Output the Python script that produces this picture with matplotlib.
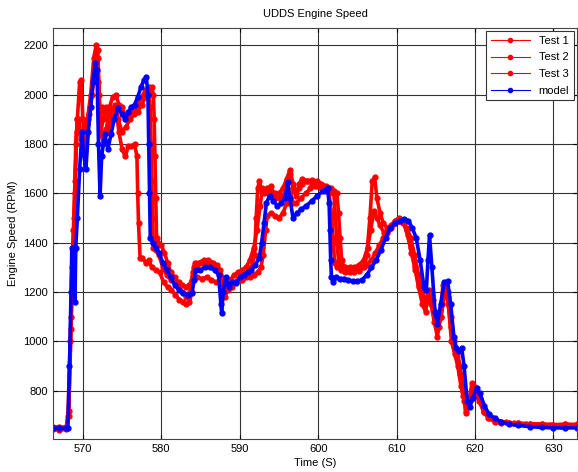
import numpy as np
import matplotlib
matplotlib.use("Agg")
import matplotlib.pyplot as plt
from matplotlib.lines import Line2D

plt.rcParams["font.family"] = ["Liberation Sans", "DejaVu Sans"]
plt.rcParams["font.size"] = 8

# model (blue)
t_model = [566.2, 567.0, 567.8, 568.1, 568.3, 568.5, 568.6, 568.8, 568.9, 569.0, 569.1, 569.3,
           569.6, 569.9, 570.1, 570.4, 570.7, 571.0, 571.3, 571.6, 571.8, 572.0, 572.2, 572.4,
           572.8, 573.2, 573.6, 574.0, 574.5, 575.0, 575.4, 575.8, 576.2, 576.6, 577.0, 577.4,
           577.8, 578.1, 578.3, 578.4, 578.5, 578.6, 578.9, 579.3, 579.7, 580.2, 580.7, 581.2,
           581.7, 582.2, 582.8, 583.4, 583.9, 584.2, 584.4, 585.0, 585.6, 586.2, 586.8, 587.3,
           587.6, 587.7, 587.9, 588.2, 588.6, 589.0, 589.5, 590.0, 590.5, 591.0, 591.5, 592.0,
           592.5, 592.8, 593.1, 593.4, 593.8, 594.3, 594.8, 595.3, 595.8, 596.1, 596.4, 596.8,
           597.3, 597.8, 598.5, 599.2, 599.9, 600.6, 601.2, 601.4, 601.5, 601.6, 601.7, 601.9,
           602.3, 602.8, 603.3, 603.8, 604.4, 605.0, 605.6, 606.2, 606.8, 607.4, 608.0, 608.6,
           609.2, 609.8, 610.4, 611.0, 611.5, 612.0, 612.5, 613.0, 613.5, 613.8, 614.0, 614.2,
           614.5, 614.9, 615.2, 615.6, 616.1, 616.5, 616.9, 617.3, 617.6, 618.0, 618.3, 618.6,
           619.0, 619.3, 619.7, 620.2, 620.6, 621.2, 621.8, 622.5, 623.3, 624.3, 625.5, 627.0,
           628.5, 630.0, 631.5, 633.0]
rpm_model = [650, 648, 648, 650, 900, 1200, 1380, 1200, 1370, 1160, 1380, 1500,
             1700, 1850, 1760, 1700, 1850, 1950, 2050, 2130, 2100, 1800, 1590, 1750,
             1840, 1780, 1840, 1900, 1945, 1920, 1900, 1930, 1950, 1960, 1990, 2030,
             2060, 2070, 2000, 1800, 1600, 1420, 1400, 1380, 1360, 1320, 1290, 1260,
             1230, 1210, 1195, 1190, 1195, 1250, 1290, 1290, 1300, 1300, 1290, 1270,
             1150, 1115, 1200, 1260, 1220, 1240, 1235, 1260, 1270, 1280, 1290, 1310,
             1340, 1400, 1480, 1560, 1590, 1570, 1550, 1560, 1580, 1645, 1580, 1500,
             1520, 1535, 1550, 1570, 1590, 1610, 1620, 1560, 1450, 1330, 1260, 1240,
             1260, 1255, 1255, 1250, 1245, 1245, 1250, 1270, 1300, 1330, 1370, 1420,
             1460, 1480, 1490, 1495, 1490, 1460, 1420, 1330, 1220, 1210, 1330, 1430,
             1300, 1120, 1070, 1150, 1240, 1245, 1150, 1020, 975, 960, 975, 900,
             760, 735, 770, 810, 790, 740, 705, 690, 675, 665, 660, 655,
             652, 650, 650, 650]

# Test 1 (red)
t_test1 = [566.2, 567.0, 567.9, 568.1, 568.4, 568.6, 568.8, 569.0, 569.3, 569.6, 569.8, 570.0,
           570.3, 570.6, 571.0, 571.4, 571.7, 571.9, 572.1, 572.3, 572.6, 573.0, 573.4, 573.8,
           574.2, 574.6, 575.0, 575.4, 575.8, 576.2, 576.6, 576.9, 577.0, 577.1, 577.3, 577.6,
           578.0, 578.4, 578.8, 579.3, 579.8, 580.3, 580.8, 581.3, 581.8, 582.3, 582.8, 583.2,
           583.6, 583.9, 584.2, 584.6, 585.2, 585.8, 586.4, 587.0, 587.5, 587.8, 588.1, 588.5,
           589.0, 589.5, 590.0, 590.5, 591.0, 591.5, 591.9, 592.1, 592.3, 592.5, 592.8, 593.1,
           593.5, 594.0, 594.5, 595.0, 595.5, 596.0, 596.4, 596.8, 597.2, 597.6, 598.0, 598.6,
           599.2, 599.8, 600.4, 601.0, 601.4, 601.7, 601.9, 602.1, 602.4, 602.9, 603.4, 604.0,
           604.6, 605.2, 605.8, 606.2, 606.6, 606.9, 607.2, 607.5, 607.9, 608.3, 608.8, 609.3,
           609.8, 610.3, 610.8, 611.3, 611.8, 612.3, 612.8, 613.3, 613.7, 614.0, 614.4, 614.8,
           615.2, 615.6, 615.9, 616.2, 616.6, 617.0, 617.4, 617.8, 618.2, 618.6, 618.9, 619.2,
           619.6, 620.0, 620.5, 621.1, 621.7, 622.4, 623.2, 624.0, 625.0, 626.5, 628.0, 629.5,
           631.0, 633.0]
rpm_test1 = [655, 650, 655, 700, 1000, 1300, 1450, 1650, 1900, 2050, 2060, 1900,
             1800, 1900, 2000, 2150, 2200, 2150, 1950, 1850, 1900, 1950, 1850, 1900,
             1950, 1850, 1780, 1750, 1790, 1790, 1800, 1750, 1600, 1480, 1340, 1340,
             1320, 1330, 1300, 1290, 1280, 1240, 1220, 1210, 1190, 1170, 1160, 1150,
             1160, 1200, 1260, 1260, 1255, 1260, 1250, 1240, 1240, 1200, 1180, 1210,
             1220, 1240, 1250, 1260, 1280, 1300, 1350, 1500, 1620, 1650, 1610, 1600,
             1620, 1630, 1580, 1600, 1620, 1660, 1695, 1640, 1590, 1640, 1660, 1650,
             1640, 1630, 1620, 1610, 1600, 1520, 1420, 1320, 1300, 1290, 1280, 1280,
             1280, 1285, 1300, 1350, 1500, 1650, 1665, 1580, 1520, 1480, 1460, 1470,
             1490, 1500, 1490, 1450, 1380, 1300, 1220, 1150, 1120, 1180, 1150, 1080,
             1020, 1100, 1230, 1200, 1150, 1000, 950, 900, 820, 760, 710, 750,
             830, 800, 760, 715, 690, 680, 675, 672, 668, 665, 662, 660,
             658, 660]

# Test 2 (red)
t_test2 = [566.2, 567.0, 567.9, 568.2, 568.5, 568.7, 568.9, 569.1, 569.3, 569.6, 569.9, 570.2,
           570.5, 570.9, 571.3, 571.6, 571.9, 572.1, 572.3, 572.6, 573.0, 573.4, 573.8, 574.2,
           574.6, 575.0, 575.5, 576.0, 576.5, 577.0, 577.5, 578.0, 578.4, 578.6, 578.7, 578.8,
           578.9, 579.0, 579.3, 579.7, 580.2, 580.7, 581.2, 581.7, 582.2, 582.7, 583.2, 583.7,
           584.0, 584.3, 584.8, 585.4, 586.0, 586.6, 587.1, 587.5, 587.9, 588.3, 588.8, 589.3,
           589.8, 590.3, 590.8, 591.3, 591.8, 592.2, 592.6, 592.9, 593.2, 593.6, 594.0, 594.5,
           595.0, 595.5, 596.0, 596.4, 596.8, 597.2, 597.6, 598.0, 598.6, 599.2, 599.8, 600.4,
           601.0, 601.6, 602.0, 602.2, 602.4, 602.6, 602.9, 603.4, 604.0, 604.6, 605.2, 605.8,
           606.3, 606.7, 607.1, 607.5, 607.9, 608.4, 608.9, 609.4, 609.9, 610.4, 610.9, 611.4,
           611.9, 612.4, 612.9, 613.4, 613.8, 614.2, 614.6, 615.0, 615.4, 615.8, 616.1, 616.5,
           616.9, 617.3, 617.7, 618.1, 618.5, 618.9, 619.3, 619.7, 620.1, 620.6, 621.2, 621.8,
           622.5, 623.3, 624.3, 625.5, 627.0, 628.5, 630.0, 631.5, 633.0]
rpm_test2 = [645, 640, 645, 700, 1100, 1350, 1500, 1800, 1900, 1850, 1800, 1780,
             1880, 1950, 2050, 2150, 2180, 2000, 1850, 1800, 1860, 1950, 1990, 2000,
             1960, 1950, 1900, 1910, 1940, 1960, 1990, 2020, 2030, 1950, 1800, 1650,
             1500, 1380, 1370, 1350, 1300, 1270, 1250, 1240, 1220, 1200, 1180, 1200,
             1280, 1320, 1320, 1330, 1330, 1320, 1310, 1290, 1250, 1240, 1250, 1270,
             1280, 1290, 1300, 1330, 1380, 1450, 1550, 1620, 1610, 1600, 1610, 1600,
             1580, 1590, 1620, 1680, 1620, 1600, 1620, 1640, 1650, 1655, 1650, 1640,
             1630, 1620, 1600, 1500, 1400, 1330, 1310, 1300, 1300, 1300, 1310, 1330,
             1380, 1450, 1530, 1500, 1470, 1440, 1450, 1470, 1490, 1495, 1480, 1430,
             1360, 1290, 1230, 1180, 1160, 1200, 1170, 1100, 1060, 1150, 1220, 1180,
             1060, 980, 940, 870, 780, 720, 770, 825, 810, 760, 715, 690,
             675, 670, 668, 668, 666, 664, 662, 665, 662]

# Test 3 (red)
t_test3 = [566.2, 567.0, 567.9, 568.2, 568.5, 568.8, 569.0, 569.2, 569.5, 569.8, 570.1, 570.4,
           570.8, 571.2, 571.5, 571.8, 572.0, 572.2, 572.5, 572.9, 573.3, 573.7, 574.1, 574.5,
           575.0, 575.5, 576.0, 576.5, 577.0, 577.5, 578.0, 578.4, 578.8, 579.0, 579.1, 579.2,
           579.3, 579.4, 579.6, 580.0, 580.4, 580.8, 581.2, 581.7, 582.2, 582.7, 583.2, 583.6,
           583.9, 584.2, 584.6, 585.2, 585.8, 586.4, 587.0, 587.5, 587.9, 588.3, 588.8, 589.3,
           589.8, 590.3, 590.8, 591.3, 591.8, 592.3, 592.7, 593.0, 593.3, 593.5, 594.0, 594.5,
           595.0, 595.5, 596.0, 596.4, 596.8, 597.2, 597.8, 598.4, 599.0, 599.6, 600.2, 600.8,
           601.4, 602.0, 602.4, 602.6, 602.8, 603.0, 603.3, 603.8, 604.4, 605.0, 605.6, 606.2,
           606.8, 607.3, 607.8, 608.3, 608.8, 609.3, 609.8, 610.3, 610.8, 611.3, 611.8, 612.3,
           612.8, 613.3, 613.7, 614.1, 614.5, 614.9, 615.3, 615.7, 616.1, 616.5, 616.9, 617.3,
           617.7, 618.1, 618.5, 618.9, 619.3, 619.7, 620.1, 620.6, 621.2, 621.8, 622.5, 623.3,
           624.3, 625.5, 627.0, 628.5, 630.0, 631.5, 633.0]
rpm_test3 = [650, 655, 650, 720, 1050, 1380, 1600, 1850, 1900, 1820, 1800, 1850,
             1920, 2000, 2100, 2180, 2050, 1900, 1950, 1920, 1880, 1940, 1960, 1900,
             1850, 1870, 1900, 1920, 1930, 1960, 1990, 2020, 2030, 2000, 1900, 1750,
             1580, 1420, 1400, 1390, 1360, 1320, 1280, 1260, 1240, 1230, 1220, 1230,
             1250, 1300, 1310, 1320, 1320, 1310, 1300, 1270, 1230, 1220, 1220, 1240,
             1250, 1250, 1260, 1260, 1270, 1280, 1300, 1350, 1450, 1510, 1520, 1510,
             1500, 1520, 1560, 1600, 1560, 1560, 1580, 1600, 1620, 1630, 1630, 1625,
             1620, 1610, 1600, 1520, 1420, 1330, 1300, 1290, 1290, 1290, 1300, 1310,
             1330, 1360, 1390, 1420, 1440, 1460, 1480, 1490, 1480, 1460, 1420, 1350,
             1270, 1200, 1160, 1210, 1190, 1120, 1060, 1100, 1200, 1200, 1100, 1000,
             960, 900, 800, 730, 760, 800, 800, 770, 720, 695, 680, 672,
             668, 670, 666, 666, 663, 664, 664]

x_ticks = [570, 580, 590, 600, 610, 620, 630]
y_ticks = [800, 1000, 1200, 1400, 1600, 1800, 2000, 2200]

fig = plt.figure(figsize=(5.78, 4.72), dpi=100)
ax = fig.add_axes([53 / 578, 1 - 439 / 472, 524 / 578, 411 / 472])

style = dict(marker=".", markersize=7, linewidth=2.6)
for t, r in [(t_test1, rpm_test1), (t_test2, rpm_test2), (t_test3, rpm_test3)]:
    ax.plot(t, r, color="red", **style)
ax.plot(t_model, rpm_model, color="blue", **style)

ax.set_xlim(566.2, 633)
ax.set_ylim(605, 2270)
ax.set_xticks(x_ticks)
ax.set_yticks(y_ticks)
ax.grid(True, color="#333333", linewidth=0.8)
ax.set_axisbelow(True)
ax.tick_params(direction="in", top=True, right=True, length=3, labelsize=8)
for s in ax.spines.values():
    s.set_color("#444444")

ax.set_title("UDDS Engine Speed", fontsize=8, pad=8)
ax.set_xlabel("Time (S)", fontsize=8, labelpad=3)
ax.set_ylabel("Engine Speed (RPM)", fontsize=8, labelpad=4)

handles = [Line2D([], [], color="red", marker=".", markersize=6, linewidth=0.8),
           Line2D([], [], color="red", marker=".", markersize=6, linewidth=0.8),
           Line2D([], [], color="red", marker=".", markersize=6, linewidth=0.8),
           Line2D([], [], color="blue", marker=".", markersize=6, linewidth=0.8)]
leg = ax.legend(handles, ["Test 1", "Test 2", "Test 3", "model"], loc="upper right",
                fancybox=False, edgecolor="#333333", framealpha=1, fontsize=8,
                borderaxespad=0.3, handlelength=3.5, labelspacing=0.6)
leg.get_frame().set_linewidth(0.8)

fig.savefig("out.png", dpi=100)
